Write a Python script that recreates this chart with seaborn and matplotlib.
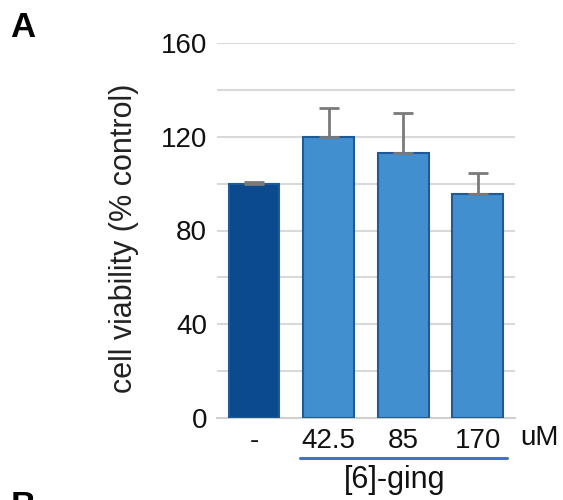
import matplotlib
matplotlib.use("Agg")
import matplotlib.pyplot as plt
import matplotlib.transforms as mtransforms
import seaborn as sns
import pandas as pd

categories = ["-", "42.5", "85", "170"]
viability = [100, 120, 113, 95.5]
err_upper = [0.5, 12.3, 17.0, 9.0]
y_ticks = [0, 40, 80, 120, 160]
group_label = "[6]-ging"
unit_label = "uM"

sns.set_theme(style="white")
plt.rcParams["font.family"] = ["Liberation Sans", "DejaVu Sans"]

fig = plt.figure(figsize=(5.63, 5.0), dpi=100)
ax = fig.add_axes([0.385, 0.164, 0.53, 0.75])

df = pd.DataFrame({"dose": categories, "viab": viability})
palette = ["#0b4a8f", "#428fcf", "#428fcf", "#428fcf"]
sns.barplot(data=df, x="dose", y="viab", hue="dose", palette=palette,
            saturation=1, width=0.68, legend=False, ax=ax, errorbar=None,
            zorder=3, edgecolor="#1f5a94", linewidth=1.5)

xs = list(range(len(categories)))
ax.errorbar(xs, viability, yerr=[[0]*len(xs), err_upper], fmt="none",
            ecolor="#7a7a7a", elinewidth=2, capsize=7, capthick=2, zorder=4)

ax.set_ylim(0, 160)
ax.set_xlim(-0.5, 3.5)
ax.set_yticks(range(0, 161, 20))
ax.set_yticklabels([str(v) if v in y_ticks else "" for v in range(0, 161, 20)])
ax.yaxis.grid(True, color="#d9d9d9", linewidth=1.5, zorder=0)
ax.set_axisbelow(True)
for s in ["top", "right", "left"]:
    ax.spines[s].set_visible(False)
ax.spines["bottom"].set_color("#d0d0d0")
ax.spines["bottom"].set_linewidth(1.5)
ax.tick_params(axis="y", length=0, labelsize=20, pad=7, colors="#111111")
ax.tick_params(axis="x", length=0, labelsize=20, pad=7, colors="#111111")
ax.set_xlabel("")
ax.set_ylabel("cell viability (% control)", fontsize=22, color="#222222")
ax.yaxis.set_label_coords(-0.262, 0.48)

trans = mtransforms.blended_transform_factory(ax.transData, ax.transAxes)
ax.plot([0.62, 3.39], [-0.107, -0.107], color="#4472c4", lw=2.2,
        transform=trans, clip_on=False)
ax.text(3.83, -0.053, unit_label, transform=trans, ha="center", va="center",
        fontsize=20, color="#111111")
ax.text(1.88, -0.165, group_label, transform=trans, ha="center", va="center",
        fontsize=22, color="#111111")

fig.text(0.018, 0.945, "A", fontsize=25, fontweight="bold", ha="left",
         va="center", color="black")
fig.text(0.018, -0.012, "B", fontsize=25, fontweight="bold", ha="left",
         va="center", color="black")

fig.savefig("out.png", dpi=100)
